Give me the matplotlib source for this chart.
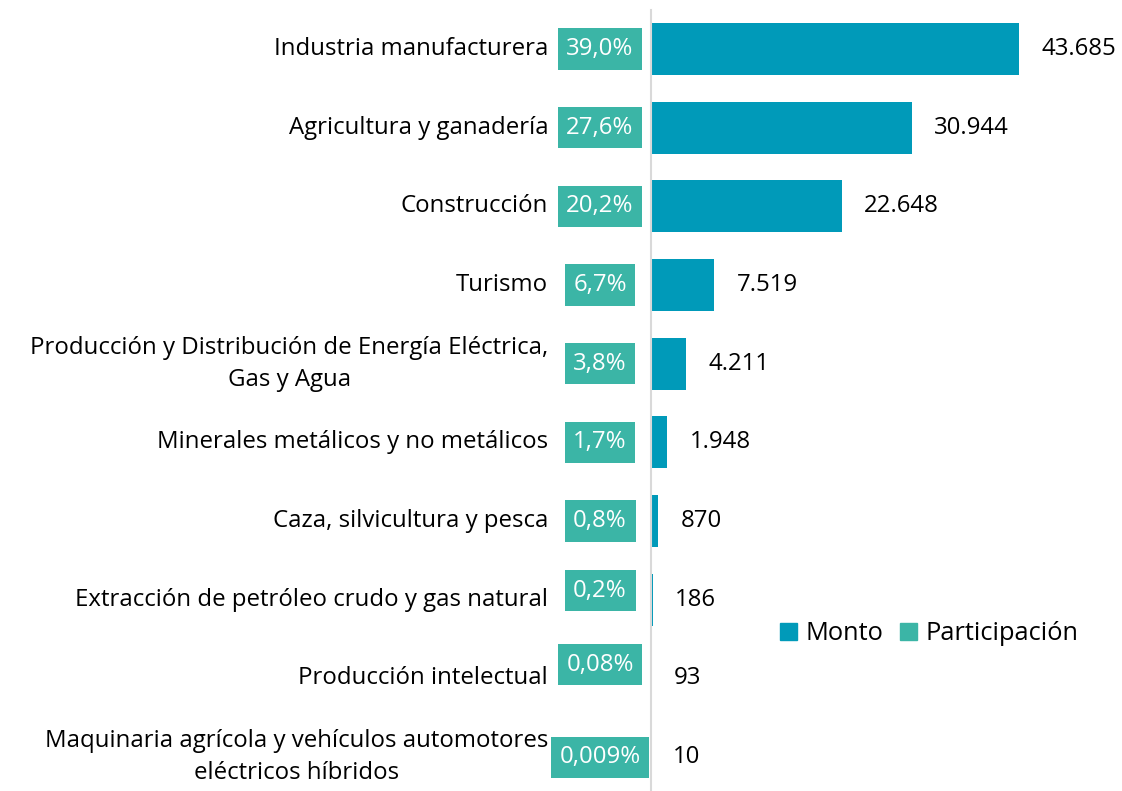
import matplotlib.pyplot as plt
from matplotlib.patches import Patch

plt.rcParams['font.family'] = ['Open Sans', 'DejaVu Sans']

sectores = [
    'Industria manufacturera',
    'Agricultura y ganadería',
    'Construcción',
    'Turismo',
    'Producción y Distribución de Energía Eléctrica,\nGas y Agua',
    'Minerales metálicos y no metálicos',
    'Caza, silvicultura y pesca',
    'Extracción de petróleo crudo y gas natural',
    'Producción intelectual',
    'Maquinaria agrícola y vehículos automotores\neléctricos híbridos',
]
monto = [43685, 30944, 22648, 7519, 4211, 1948, 870, 186, 93, 10]
monto_txt = ['43.685', '30.944', '22.648', '7.519', '4.211', '1.948', '870', '186', '93', '10']
participacion = ['39,0%', '27,6%', '20,2%', '6,7%', '3,8%', '1,7%', '0,8%', '0,2%', '0,08%', '0,009%']

c_monto = '#009AB9'
c_part = '#3BB5A6'
fs = 17.3

fig = plt.figure(figsize=(11.22, 7.91), dpi=100)
ax = fig.add_axes([651 / 1122, 0.0, 1 - 651 / 1122, 1 - 9.7 / 791])

y = list(range(len(sectores)))
ax.barh(y, monto, height=0.66, color=c_monto)
ax.set_xlim(0, 55900)
ax.set_ylim(9.43, -0.5)

# a couple of the small labels sit a bit higher in the original
box_dy = {7: 6.5, 8: 10}

for i in y:
    ax.annotate(monto_txt[i], xy=(monto[i], i), xytext=(16, 0), textcoords='offset points',
                ha='left', va='center', fontsize=fs, color='black')
    ax.annotate(participacion[i], xy=(0, i), xytext=(-36.7, box_dy.get(i, 0)),
                textcoords='offset points', ha='center', va='center', fontsize=fs, color='white',
                bbox=dict(boxstyle='square,pad=0.36', fc=c_part, ec='none'))
    ax.annotate(sectores[i], xy=(0, i), xytext=(-74, 0), textcoords='offset points',
                ha='right', va='center', fontsize=fs, color='black',
                multialignment='center', linespacing=1.45)

for s in ['top', 'right', 'bottom']:
    ax.spines[s].set_visible(False)
ax.spines['left'].set_color('#D9D9D9')
ax.spines['left'].set_linewidth(1.5)
ax.set_xticks([])
ax.set_yticks([])

handles = [Patch(color=c_monto, label='Monto'), Patch(color=c_part, label='Participación')]
fig.legend(handles=handles, loc='center', bbox_to_anchor=(929.5 / 1122, 1 - 634 / 791), ncol=2,
           frameon=False, fontsize=18.3, handlelength=0.65, handleheight=0.65, handletextpad=0.35,
           columnspacing=0.65)

fig.savefig('out.png', dpi=100)
